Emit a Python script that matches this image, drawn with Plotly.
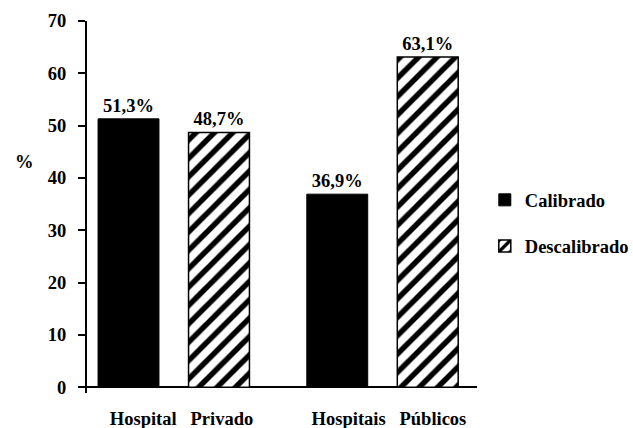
import plotly.graph_objects as go

# Share of calibrated vs. uncalibrated equipment by hospital type (%)
groups = ["Hospital Privado", "Hospitais Públicos"]
group_labels = ["Hospital&nbsp;&nbsp;&nbsp;Privado", "Hospitais&nbsp;&nbsp;&nbsp;Públicos"]
calibrado = [51.3, 36.9]
descalibrado = [48.7, 63.1]
y_ticks = [0, 10, 20, 30, 40, 50, 60, 70]

FONT = "Liberation Serif, Times New Roman, serif"
FS = 18.5
x_pos = list(range(len(groups)))

fig = go.Figure()
fig.add_trace(go.Bar(
    name="Calibrado", x=x_pos, y=calibrado, legendgroup="a",
    marker=dict(color="black", line=dict(color="black", width=1)),
    texttemplate="%{y:.1f}%", textposition="outside",
    textfont=dict(family=FONT, size=FS, color="black", weight="bold"),
    cliponaxis=False,
))
fig.add_trace(go.Bar(
    name="Descalibrado", x=x_pos, y=descalibrado, legendgroup="b",
    marker=dict(color="white", line=dict(color="black", width=1.5),
                pattern=dict(shape="/", fgcolor="black", bgcolor="white",
                             fgopacity=1, size=13, solidity=0.42)),
    texttemplate="%{y:.1f}%", textposition="outside",
    textfont=dict(family=FONT, size=FS, color="black", weight="bold"),
    cliponaxis=False,
))

fig.update_layout(
    width=633, height=428,
    margin=dict(l=87, r=156, t=21, b=35, autoexpand=False),
    paper_bgcolor="white", plot_bgcolor="white",
    font=dict(family=FONT, size=FS, color="black", weight="bold"),
    separators=",.",
    barmode="group", bargap=0.133, bargroupgap=0.327,
    legend=dict(x=1.02, y=0.569, xanchor="left", yanchor="top",
                traceorder="grouped", tracegroupgap=19,
                font=dict(family=FONT, size=FS, color="black", weight="bold")),
    annotations=[dict(text="%", x=-0.159, y=0.621, xref="paper", yref="paper",
                      xanchor="center", yanchor="middle", showarrow=False,
                      font=dict(family=FONT, size=FS, weight="bold"))],
)
fig.update_xaxes(
    range=[-0.4156, 1.4527], tickvals=[0.037, 1.031], ticktext=group_labels,
    showline=False, showgrid=False, zeroline=False, ticks="",
    ticklabelstandoff=12, automargin=False,
    tickfont=dict(family=FONT, size=FS, color="black", weight="bold"),
)
fig.update_yaxes(
    range=[-1.1, 70], tickvals=y_ticks, automargin=False,
    showline=True, linecolor="black", linewidth=2,
    ticks="outside", ticklen=7, tickwidth=1.5, tickcolor="black",
    showgrid=False, zeroline=True, zerolinecolor="black", zerolinewidth=2,
    ticklabelstandoff=8,
    tickfont=dict(family=FONT, size=FS, color="black", weight="bold"),
)

fig.write_html("out.html")
